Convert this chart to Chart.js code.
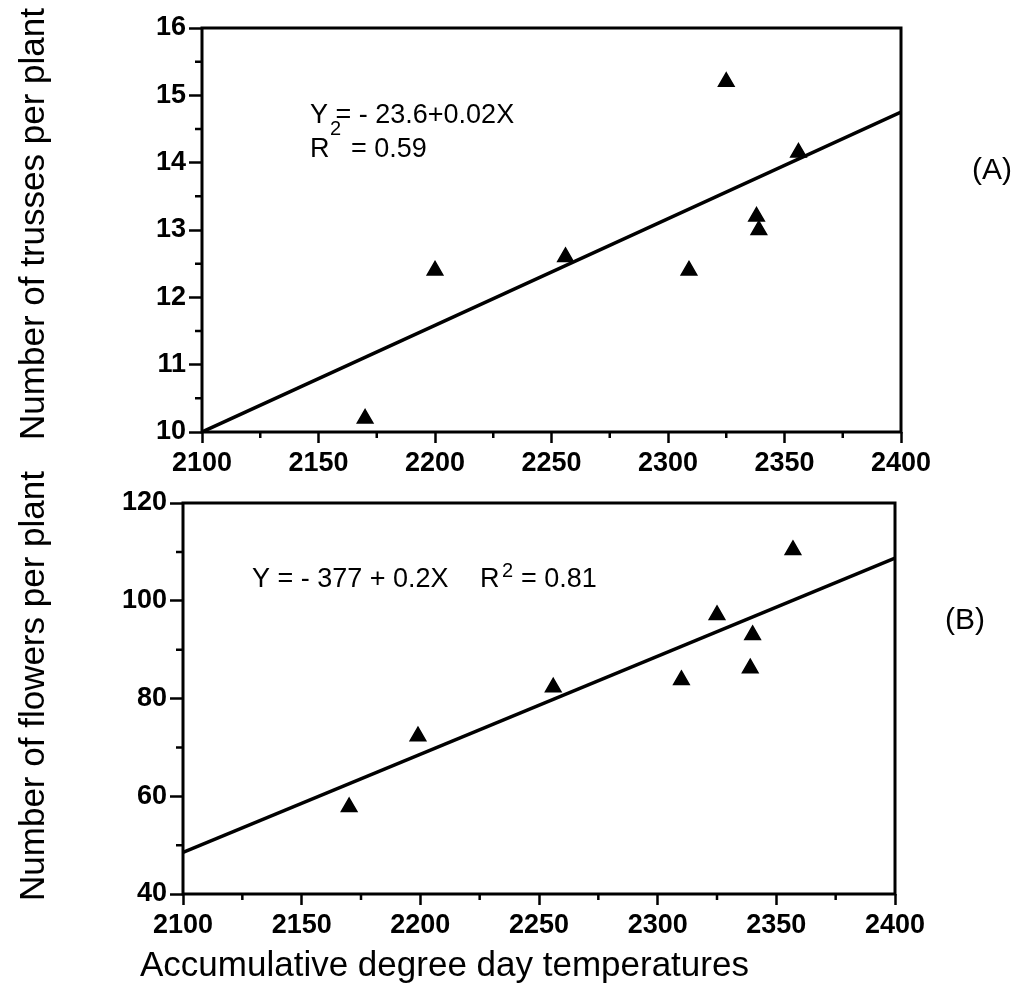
<!DOCTYPE html>
<html>
<head>
<meta charset="utf-8">
<script src="https://cdn.jsdelivr.net/npm/chart.js@4.4.1/dist/chart.umd.min.js"></script>
<style>
html,body{margin:0;padding:0;background:#fff;}
#wrap{position:relative;width:1034px;height:998px;overflow:hidden;background:#fff;}
canvas{position:absolute;left:0;top:0;}
</style>
</head>
<body>
<div id="wrap">
<canvas id="cB" width="1034" height="998"></canvas>
<canvas id="cA" width="1034" height="998"></canvas>
</div>
<script>
// ---- data ----
const xRange = [2100, 2400];
const xMajorStep = 50;
const xMinorStep = 25;

// (A) number of trusses per plant
const trussX = [2170, 2200, 2256, 2309, 2325, 2338, 2339, 2356];
const trussY = [10.2, 12.4, 12.6, 12.4, 15.2, 13.2, 13.0, 14.15];
const trussFitX = [2100, 2400];
const trussFitY = [10.0, 14.75];
const trussRange = [10, 16];
const trussMajorStep = 1;
const trussMinorStep = 0.5;

// (B) number of flowers per plant
const flowerX = [2170, 2199, 2256, 2310, 2325, 2339, 2340, 2357];
const flowerY = [57.8, 72.3, 82.3, 83.8, 97.1, 86.2, 93.0, 110.4];
const flowerFitX = [2100, 2400];
const flowerFitY = [48.5, 108.7];
const flowerRange = [40, 120];
const flowerMajorStep = 20;
const flowerMinorStep = 10;

const toPts = (xs, ys) => xs.map((x, i) => ({x: x, y: ys[i]}));

Chart.defaults.font.family = "'Liberation Sans', Arial, Helvetica, sans-serif";
Chart.defaults.color = '#000';

const decor = {
  id: 'decor',
  afterDraw(chart, args, opts) {
    const ctx = chart.ctx, a = chart.chartArea;
    const xs = chart.scales.x, ys = chart.scales.y;
    ctx.save();
    ctx.strokeStyle = '#000';
    ctx.lineCap = 'butt';
    // minor ticks
    ctx.lineWidth = 2.5;
    ctx.beginPath();
    for (let v = xs.min + opts.xMinor; v < xs.max; v += opts.xMinor * 2) {
      const px = xs.getPixelForValue(v);
      ctx.moveTo(px, a.bottom);
      ctx.lineTo(px, a.bottom + 6);
    }
    for (let v = ys.min + opts.yMinor; v < ys.max; v += opts.yMinor * 2) {
      const py = ys.getPixelForValue(v);
      ctx.moveTo(a.left, py);
      ctx.lineTo(a.left - 7, py);
    }
    ctx.stroke();
    // frame
    ctx.lineWidth = 3;
    ctx.strokeRect(a.left, a.top, a.right - a.left, a.bottom - a.top);
    // texts
    ctx.fillStyle = '#000';
    for (const t of opts.texts) {
      ctx.save();
      ctx.font = t.font;
      ctx.textAlign = t.align || 'left';
      ctx.textBaseline = 'alphabetic';
      ctx.translate(t.x, t.y);
      if (t.rot) ctx.rotate(t.rot);
      ctx.fillText(t.t, 0, 0);
      ctx.restore();
    }
    ctx.restore();
  }
};

function makeChart(id, pts, fit, yr, yStep, yMinor, area, texts) {
  const W = 1034, H = 998, xH = 60;
  return new Chart(document.getElementById(id), {
    type: 'scatter',
    data: {
      datasets: [
        {
          type: 'line',
          data: fit,
          borderColor: '#000',
          borderWidth: 3.5,
          pointRadius: 0,
          fill: false,
          tension: 0,
          order: 2
        },
        {
          data: pts,
          pointStyle: 'triangle',
          pointRadius: 9,
          pointBackgroundColor: '#000',
          pointBorderColor: '#000',
          pointBorderWidth: 1.5,
          order: 1
        }
      ]
    },
    options: {
      responsive: false,
      animation: false,
      devicePixelRatio: 1,
      layout: {
        padding: {left: 0, top: area.top, right: W - area.right, bottom: H - area.bottom - xH}
      },
      plugins: {
        legend: {display: false},
        tooltip: {enabled: false},
        decor: {xMinor: xMinorStep, yMinor: yMinor, texts: texts}
      },
      scales: {
        x: {
          type: 'linear',
          min: xRange[0], max: xRange[1],
          afterFit: s => { s.height = xH; },
          ticks: {stepSize: xMajorStep, padding: 4, font: {size: 27, weight: 'bold'}, color: '#000', maxRotation: 0,
                  callback: v => String(v)},
          grid: {drawOnChartArea: false, drawTicks: true, tickLength: 11, tickWidth: 2.5, tickColor: '#000'},
          border: {display: false}
        },
        y: {
          type: 'linear',
          min: yr[0], max: yr[1],
          afterFit: s => { s.width = area.left; },
          ticks: {stepSize: yStep, padding: 3, font: {size: 27, weight: 'bold'}, color: '#000',
                  callback: v => String(v)},
          grid: {drawOnChartArea: false, drawTicks: true, tickLength: 13, tickWidth: 2.5, tickColor: '#000'},
          border: {display: false}
        }
      }
    },
    plugins: [decor]
  });
}

const fEq = "27px 'Liberation Sans', Arial, sans-serif";
const fSup = "20px 'Liberation Sans', Arial, sans-serif";
const fBig = "35px 'Liberation Sans', Arial, sans-serif";
const fPanel = "30px 'Liberation Sans', Arial, sans-serif";

makeChart('cA', toPts(trussX, trussY), toPts(trussFitX, trussFitY), trussRange, trussMajorStep, trussMinorStep,
  {left: 202, right: 901, top: 28, bottom: 432},
  [
    {t: 'Y = - 23.6+0.02X', x: 310, y: 123, font: fEq},
    {t: 'R', x: 310, y: 157, font: fEq},
    {t: '2', x: 330, y: 135, font: fSup},
    {t: '= 0.59', x: 351, y: 157, font: fEq},
    {t: '(A)', x: 972, y: 179, font: fPanel},
    {t: 'Number of trusses per plant', x: 44, y: 224, font: fBig, align: 'center', rot: -Math.PI / 2},
    {t: 'Number of flowers per plant', x: 44, y: 686, font: fBig, align: 'center', rot: -Math.PI / 2},
    {t: 'Accumulative degree day temperatures', x: 140, y: 976, font: fBig}
  ]);

makeChart('cB', toPts(flowerX, flowerY), toPts(flowerFitX, flowerFitY), flowerRange, flowerMajorStep, flowerMinorStep,
  {left: 183, right: 895, top: 503, bottom: 894},
  [
    {t: 'Y = - 377 + 0.2X', x: 252, y: 587, font: fEq},
    {t: 'R', x: 480, y: 587, font: fEq},
    {t: '2', x: 502, y: 577, font: fSup},
    {t: '= 0.81', x: 521, y: 587, font: fEq},
    {t: '(B)', x: 945, y: 629, font: fPanel}
  ]);
</script>
</body>
</html>
